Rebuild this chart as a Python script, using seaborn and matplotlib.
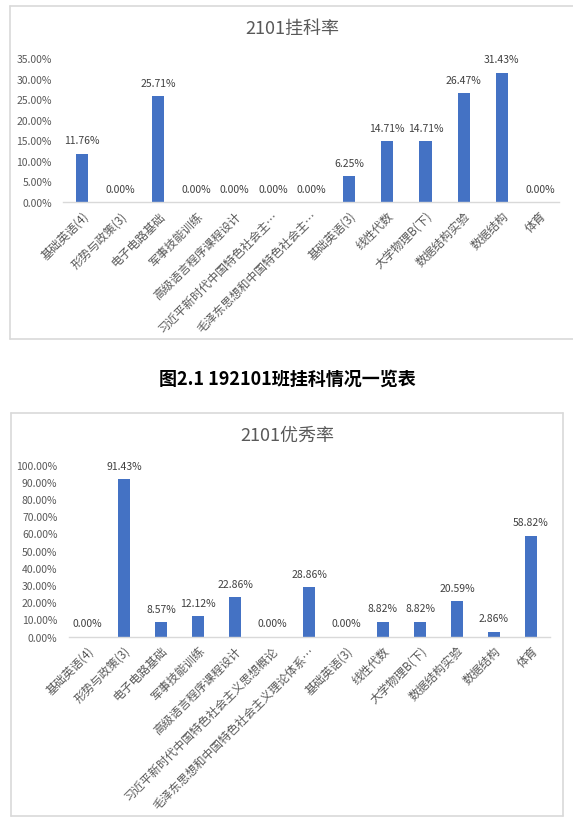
import matplotlib
matplotlib.use("Agg")
import matplotlib.pyplot as plt
from matplotlib.lines import Line2D
import seaborn as sns
import pandas as pd

# ---- data ----
fail_courses = ["基础英语(4)", "形势与政策(3)", "电子电路基础", "军事技能训练", "高级语言程序课程设计",
                "习近平新时代中国特色社会主…", "毛泽东思想和中国特色社会主…", "基础英语(3)", "线性代数",
                "大学物理B(下)", "数据结构实验", "数据结构", "体育"]
fail_rates = [11.76, 0.00, 25.71, 0.00, 0.00, 0.00, 0.00, 6.25, 14.71, 14.71, 26.47, 31.43, 0.00]
fail_ticks = [0, 5, 10, 15, 20, 25, 30, 35]

exc_courses = ["基础英语(4)", "形势与政策(3)", "电子电路基础", "军事技能训练", "高级语言程序课程设计",
               "习近平新时代中国特色社会主义思想概论", "毛泽东思想和中国特色社会主义理论体系…", "基础英语(3)",
               "线性代数", "大学物理B(下)", "数据结构实验", "数据结构", "体育"]
exc_rates = [0.00, 91.43, 8.57, 12.12, 22.86, 0.00, 28.86, 0.00, 8.82, 8.82, 20.59, 2.86, 58.82]
exc_ticks = [0, 10, 20, 30, 40, 50, 60, 70, 80, 90, 100]

title_fail = "2101挂科率"
title_exc = "2101优秀率"
caption = "图2.1 192101班挂科情况一览表"

sns.set_theme(style="white")
plt.rcParams['font.family'] = ['Noto Sans CJK SC', 'DejaVu Sans']

W, H = 573, 829
fig = plt.figure(figsize=(W / 100, H / 100), dpi=100)
fig.patch.set_facecolor("white")

BAR = "#4472C4"
GRID = "#D9D9D9"
TXT = "#595959"


def px_axes(l, r, b, t):
    return fig.add_axes([l / W, 1 - b / H, (r - l) / W, (b - t) / H])


def draw(ax, cats, vals, ticks, ymax):
    df = pd.DataFrame({"c": cats, "v": vals})
    sns.barplot(data=df, x="c", y="v", order=cats, color=BAR, saturation=1,
                width=0.32, linewidth=0, ax=ax)
    ax.set_xlim(-0.5, len(cats) - 0.5)
    ax.set_ylim(0, ymax)
    ax.set_yticks(ticks)
    ax.set_yticklabels([f"{t:.2f}%" for t in ticks], fontsize=7.5, color=TXT)
    ax.set_xticks(range(len(cats)))
    ax.set_xticklabels(cats, rotation=45, ha="right", rotation_mode="anchor",
                       fontsize=8.5, color=TXT)
    ax.tick_params(axis="both", length=0)
    ax.tick_params(axis="y", pad=8)
    ax.tick_params(axis="x", pad=5)
    ax.set_xlabel("")
    ax.set_ylabel("")
    for s in ["top", "right", "left"]:
        ax.spines[s].set_visible(False)
    ax.spines["bottom"].set_color(GRID)
    ax.spines["bottom"].set_linewidth(1)
    ax.set_facecolor("none")
    ax.bar_label(ax.containers[0], labels=[f"{v:.2f}%" for v in vals],
                 padding=6, fontsize=7.5, color="#404040")


ax1 = px_axes(63, 559, 203, 59)
draw(ax1, fail_courses, fail_rates, fail_ticks, 35)

ax2 = px_axes(68.5, 549.5, 637.7, 465.7)
draw(ax2, exc_courses, exc_rates, exc_ticks, 100)

fig.text(292 / W, 1 - 29 / H, title_fail, ha="center", va="center", fontsize=13, color=TXT)
fig.text(287 / W, 1 - 436 / H, title_exc, ha="center", va="center", fontsize=13, color=TXT)
fig.text(287 / W, 1 - 379 / H, caption, ha="center", va="center", fontsize=13,
         fontweight="bold", color="black")


def fline(x0, y0, x1, y1):
    fig.add_artist(Line2D([x0 / W, x1 / W], [1 - y0 / H, 1 - y1 / H],
                          color=GRID, lw=1.2, transform=fig.transFigure))

# top box (runs off the right edge)
fline(10, 7, 580, 7)
fline(10, 7, 10, 340)
fline(10, 340, 580, 340)
# bottom box
fline(10.5, 414, 563, 414)
fline(10.5, 414, 10.5, 817)
fline(10.5, 817, 563, 817)
fline(563, 414, 563, 817)

fig.savefig("out.png", dpi=100)
